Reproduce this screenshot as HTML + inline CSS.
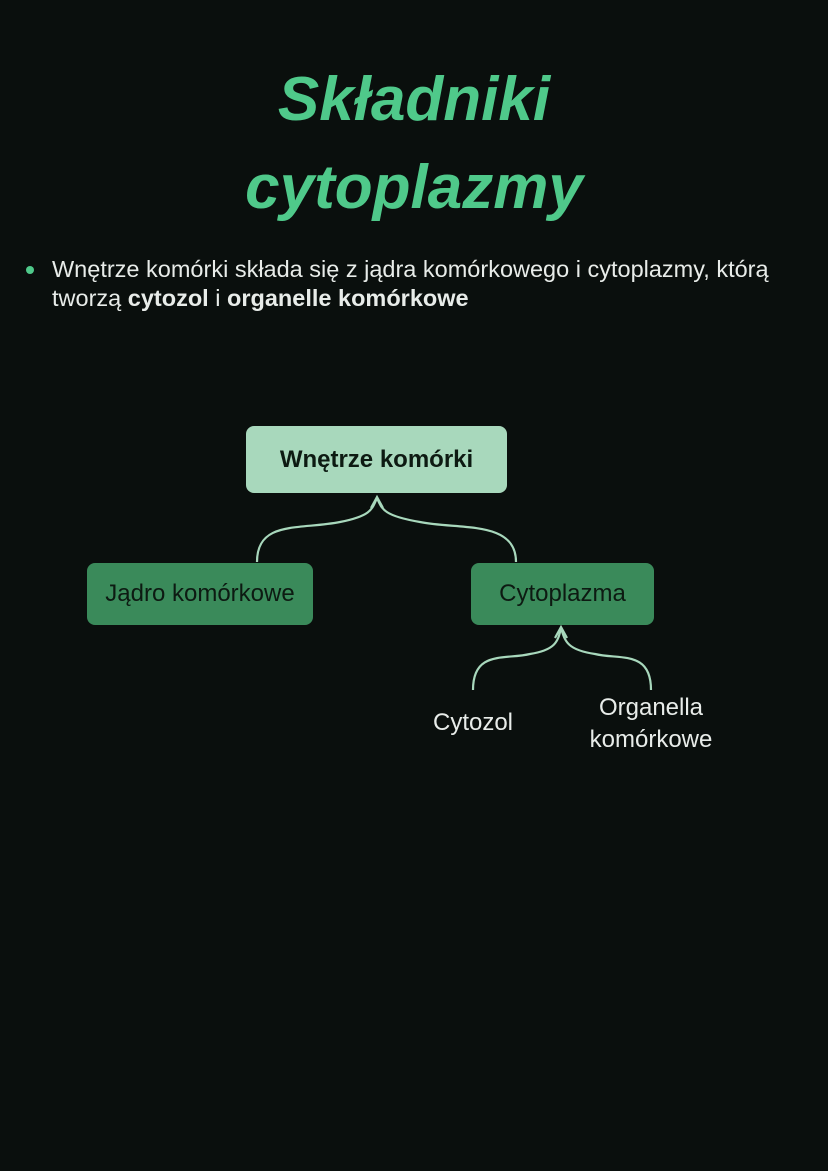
<!DOCTYPE html>
<html><head><meta charset="utf-8"><style>
body{margin:0;width:828px;height:1171px;background:#0a0f0d;position:relative;overflow:hidden;font-family:"Liberation Sans","DejaVu Sans",sans-serif;}
.t{position:absolute;left:0;width:828px;text-align:center;color:#4fc98a;font-family:"Liberation Sans",sans-serif;font-style:italic;font-weight:bold;font-size:62px;}
.p{position:absolute;left:52px;color:#e8ece9;font-size:23.5px;line-height:29px;width:770px;white-space:nowrap}
.b{position:absolute;border-radius:8px;display:flex;align-items:center;justify-content:center;font-size:24px}
.l{position:absolute;color:#e8ece9;font-size:24px;text-align:center;line-height:32px}
</style></head><body>
<div class="t" style="top:64px;">Składniki</div>
<div class="t" style="top:152px;">cytoplazmy</div>
<div style="position:absolute;left:26px;top:266px;width:8px;height:8px;border-radius:50%;background:#4fc98a"></div>
<div class="p" style="top:255px">Wnętrze komórki składa się z jądra komórkowego i cytoplazmy, którą<br>tworzą <b>cytozol</b> i <b>organelle komórkowe</b></div>
<div class="b" style="left:246px;top:426px;width:261px;height:67px;background:#a8d8bc;color:#0d1a12;font-weight:bold">Wnętrze komórki</div>
<div class="b" style="left:87px;top:563px;width:226px;height:62px;background:#3a8a5a;color:#0d1a12">Jądro komórkowe</div>
<div class="b" style="left:471px;top:563px;width:183px;height:62px;background:#3a8a5a;color:#0d1a12">Cytoplazma</div>
<svg style="position:absolute;left:0;top:0" width="828" height="1171" fill="none" stroke="#a8d8bc" stroke-width="2.2">
<path d="M257 562 C257 520 300 530 340 522 C370 516 372 510 377 498"/>
<path d="M516 562 C516 520 460 530 420 522 C385 516 382 510 377 498"/>
<path d="M371 508 L377 497 L383 508"/>
<path d="M473 690 C473 650 505 660 530 654 C555 650 558 642 561 628"/>
<path d="M651 690 C651 650 620 660 595 654 C568 650 565 642 561 628"/>
<path d="M555 638 L561 627 L567 638"/>
</svg>
<div class="l" style="left:403px;top:707px;width:140px">Cytozol</div>
<div class="l" style="left:551px;top:692px;width:200px">Organella<br>komórkowe</div>
</body></html>
